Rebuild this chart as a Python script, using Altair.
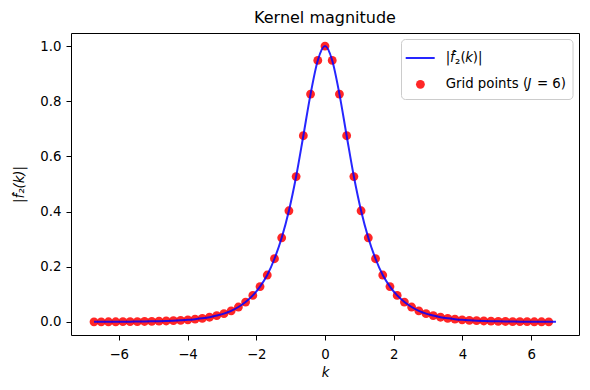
import altair as alt
import pandas as pd

# Grid points k_n (regular grid, 64 points) and |f2_hat(k_n)|
grid_k = [-6.72, -6.51, -6.30, -6.09, -5.88, -5.67, -5.46, -5.25, -5.04, -4.83,
          -4.62, -4.41, -4.20, -3.99, -3.78, -3.57, -3.36, -3.15, -2.94, -2.73,
          -2.52, -2.31, -2.10, -1.89, -1.68, -1.47, -1.26, -1.05, -0.84, -0.63,
          -0.42, -0.21, 0.00, 0.21, 0.42, 0.63, 0.84, 1.05, 1.26, 1.47,
          1.68, 1.89, 2.10, 2.31, 2.52, 2.73, 2.94, 3.15, 3.36, 3.57,
          3.78, 3.99, 4.20, 4.41, 4.62, 4.83, 5.04, 5.25, 5.46, 5.67,
          5.88, 6.09, 6.30, 6.51]
grid_mag = [0.0002, 0.0003, 0.0004, 0.0005, 0.0007, 0.0009, 0.0012, 0.0015, 0.0020, 0.0026,
            0.0034, 0.0044, 0.0058, 0.0075, 0.010, 0.013, 0.017, 0.023, 0.030, 0.040,
            0.054, 0.072, 0.096, 0.128, 0.170, 0.229, 0.305, 0.403, 0.527, 0.675,
            0.826, 0.948, 1.000, 0.948, 0.826, 0.675, 0.527, 0.403, 0.305, 0.229,
            0.170, 0.128, 0.096, 0.072, 0.054, 0.040, 0.030, 0.023, 0.017, 0.013,
            0.010, 0.0075, 0.0058, 0.0044, 0.0034, 0.0026, 0.0020, 0.0015, 0.0012, 0.0009,
            0.0007, 0.0005, 0.0004, 0.0003]

# Continuous curve samples (same readings, extended to the right end of the curve)
curve_k = grid_k + [6.72]
curve_mag = grid_mag + [0.0002]

x_ticks = [-6, -4, -2, 0, 2, 4, 6]
y_ticks = [0.0, 0.2, 0.4, 0.6, 0.8, 1.0]

FONT = "DejaVu Sans"
FS = 13.3

pts_df = pd.DataFrame({"k": grid_k, "mag": grid_mag})
curve_df = pd.DataFrame({"k": curve_k, "mag": curve_mag})
one = pd.DataFrame({"i": [0]})

x_scale = alt.Scale(domain=[-7.39, 7.39], nice=False, zero=False)
y_scale = alt.Scale(domain=[-0.0475, 1.0475], nice=False, zero=False)

x_enc = alt.X("k:Q", scale=x_scale,
              axis=alt.Axis(values=x_ticks, format="d", title="k",
                            titleFontStyle="italic", titleFontWeight="normal",
                            titleFontSize=FS, titlePadding=5, labelPadding=7))
y_enc = alt.Y("mag:Q", scale=y_scale,
              axis=alt.Axis(values=y_ticks, format=".1f", title="|f̂₂(k)|",
                            titleFontStyle="italic", titleFontWeight="normal",
                            titleFontSize=FS, titlePadding=13, labelPadding=5))

points = alt.Chart(pts_df).mark_circle(size=78, color="red", opacity=0.85).encode(x=x_enc, y=y_enc)
line = alt.Chart(curve_df).mark_line(color="blue", strokeWidth=2, opacity=0.85,
                                     interpolate="monotone").encode(x=x_enc, y=y_enc)

# Legend (drawn inside the plot, upper right)
leg_box = alt.Chart(one).mark_rect(fill="white", fillOpacity=0.8, stroke="#cccccc",
                                   strokeWidth=1, cornerRadius=4).encode(
    x=alt.value(330.5), x2=alt.value(502), y=alt.value(6.5), y2=alt.value(66.5))
leg_line = alt.Chart(one).mark_rule(color="blue", strokeWidth=2, opacity=0.85).encode(
    x=alt.value(334.7), x2=alt.value(363.7), y=alt.value(25))
leg_pt = alt.Chart(one).mark_circle(size=78, color="red", opacity=0.85).encode(
    x=alt.value(349.4), y=alt.value(51.3))


def txt(s, x, y, italic=False):
    return alt.Chart(one).mark_text(align="left", baseline="middle", fontSize=FS, font=FONT,
                                    fontStyle="italic" if italic else "normal",
                                    color="black", text=s).encode(
        x=alt.value(x), y=alt.value(y))


legend_texts = [
    txt("|", 374.7, 25),
    txt("f\u0302", 379.0, 25, True),
    txt("\u2082", 384.0, 27),
    txt("(", 389.5, 25),
    txt("k", 394.3, 25, True),
    txt(")|", 401.8, 25),
    txt("Grid points (", 374.7, 51.3),
    txt("J", 456.5, 51.3, True),
    txt("= 6)", 466.0, 51.3),
]

chart = alt.layer(points, line, leg_box, leg_line, leg_pt, *legend_texts).properties(
    width=508, height=302,
    padding={"left": 63, "top": 25, "right": 2, "bottom": 45},
    autosize=alt.AutoSizeParams(type="none"),
    background="white",
    title=alt.TitleParams("Kernel magnitude", fontSize=16, font=FONT, fontWeight="normal",
                          color="black", anchor="middle", offset=7),
).configure_view(stroke="black", strokeWidth=1).configure_axis(
    grid=False, domain=False, ticks=True, tickColor="black", tickSize=5, tickWidth=1,
    labelFont=FONT, labelFontSize=FS, labelColor="black",
    titleFont=FONT, titleColor="black",
)

chart.save("out.html", embed_options={"renderer": "svg", "actions": False})
